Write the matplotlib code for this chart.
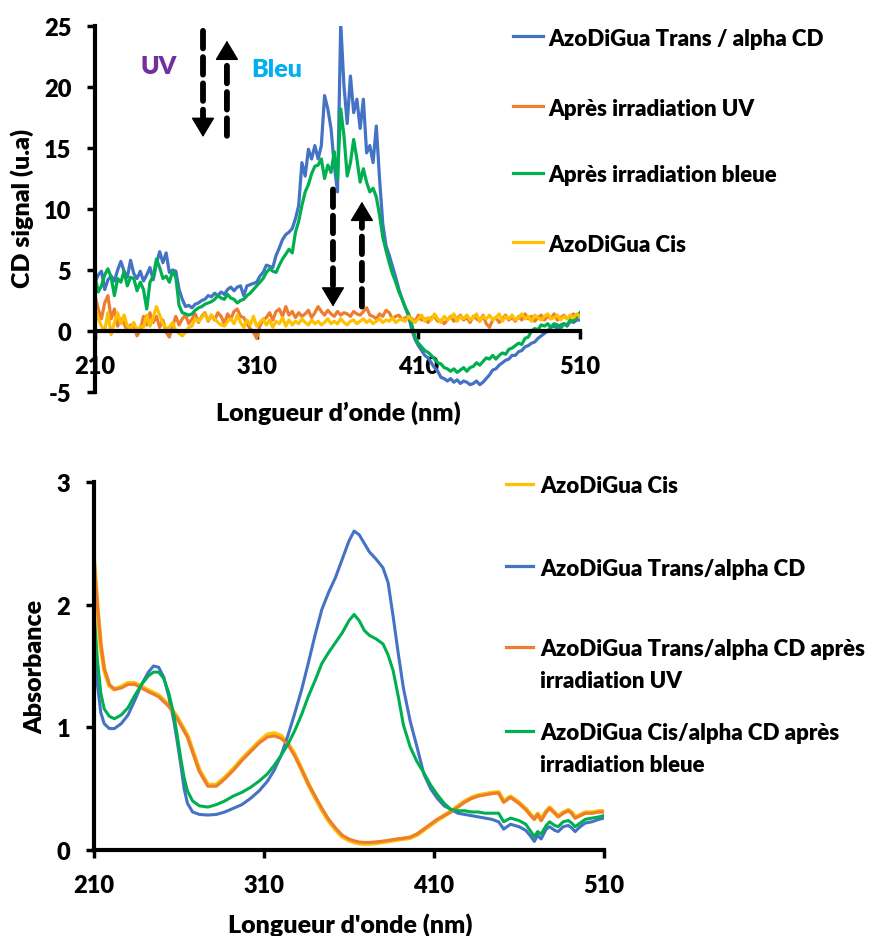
import numpy as np
import matplotlib
matplotlib.use('Agg')
import matplotlib.pyplot as plt
from matplotlib.lines import Line2D

plt.rcParams['font.family'] = ['Lato', 'DejaVu Sans']
plt.rcParams['font.weight'] = 'heavy'
plt.rcParams['axes.unicode_minus'] = False

# ---------------- CD data (top panel), 210-510 nm every 2 nm ----------------
wl_cd = np.arange(210, 511, 2)

cd_trans = [4.0, 4.6, 4.9, 3.4, 4.2, 4.5, 4.1, 5.0, 5.7, 4.9,
            4.4, 5.8, 4.7, 4.3, 4.9, 4.1, 4.6, 5.2, 4.2, 5.5,
            6.5, 5.6, 6.4, 4.8, 5.0, 4.9, 3.4, 2.6, 2.0, 2.1,
            1.9, 2.2, 2.3, 2.5, 2.6, 2.9, 2.8, 3.1, 2.9, 3.2,
            3.0, 3.4, 3.6, 3.3, 3.6, 3.7, 2.9, 3.7, 3.8, 3.9,
            4.0, 4.5, 4.8, 5.4, 5.3, 5.2, 6.2, 6.8, 7.5, 7.9,
            8.1, 8.4, 9.2, 10.3, 13.8, 12.7, 14.9, 14.1, 15.2, 14.1,
            15.2, 19.3, 18.2, 16.6, 13.6, 11.4, 25.2, 20.1, 17.0, 20.9,
            17.9, 19.0, 16.6, 19.0, 14.6, 15.2, 13.8, 16.8, 12.5, 8.8,
            7.0, 6.2, 5.3, 4.4, 3.4, 2.6, 1.9, 1.2, 0.1, -0.7,
            -1.2, -1.6, -2.0, -2.2, -2.6, -3.0, -3.3, -3.8, -3.9, -4.1,
            -3.9, -4.2, -4.0, -4.3, -4.1, -4.2, -4.4, -4.3, -4.1, -4.4,
            -4.2, -3.9, -3.6, -3.2, -3.1, -2.8, -2.6, -2.4, -2.3, -2.0,
            -2.0, -1.7, -1.6, -1.3, -1.2, -1.0, -0.9, -0.6, -0.4, -0.2,
            0.0, 0.3, 0.4, 0.2, 0.5, 0.6, 0.4, 0.8, 0.7, 0.9,
            0.9]

cd_uv = [2.9, 1.8, 1.0, 2.3, 2.9, 1.0, 1.8, 0.4, 1.0, 0.6,
         0.0, 0.5, 0.4, -0.4, 0.1, 1.2, 0.5, 1.5, 0.7, 1.2,
         0.3, 0.9, -0.1, -0.5, 0.4, 1.2, 0.5, 1.0, 1.3, 0.6,
         1.0, 1.4, 0.7, 1.2, 1.5, 0.8, 1.3, 0.9, 1.5, 1.2,
         0.6, 1.4, 1.0, 1.6, 1.8, 1.2, 1.1, 0.6, 0.2, -0.1,
         -0.6, 0.4, 0.9, 1.1, 1.5, 0.9, 1.6, 1.8, 1.2, 2.0,
         1.3, 1.6, 1.1, 1.5, 1.2, 1.4, 1.7, 1.1, 1.5, 2.0,
         1.6, 1.3, 1.7, 1.4, 1.2, 1.6, 1.3, 1.5, 1.4, 1.2,
         1.6, 1.4, 1.3, 1.6, 1.9, 1.3, 1.2, 1.0, 1.4, 1.2,
         1.7, 1.5, 1.0, 1.2, 1.3, 0.9, 1.1, 1.2, 1.0, 0.8,
         1.3, 0.9, 1.0, 0.7, 1.1, 1.2, 0.8, 0.9, 0.6, 0.9,
         1.2, 0.8, 1.0, 1.3, 0.9, 1.1, 0.7, 1.2, 1.0, 0.8,
         1.3, 0.6, 0.3, 0.9, 1.1, 0.7, 1.0, 1.3, 0.9, 1.1,
         0.8, 1.2, 0.9, 1.4, 1.0, 1.2, 0.8, 1.1, 1.3, 0.9,
         1.2, 1.0, 1.4, 0.9, 1.1, 1.3, 1.0, 1.2, 1.4, 1.1,
         1.3]

cd_blue = [4.5, 3.2, 3.7, 4.6, 5.1, 4.4, 2.9, 4.3, 4.0, 4.9,
           3.7, 4.4, 4.3, 3.3, 4.0, 3.4, 1.8, 4.0, 4.5, 5.9,
           5.2, 4.3, 4.5, 4.0, 4.9, 4.4, 2.1, 1.5, 1.4, 1.3,
           1.4, 1.7, 1.9, 2.0, 2.2, 2.3, 2.4, 2.6, 2.9, 2.7,
           2.6, 3.0, 2.7, 2.6, 2.3, 2.5, 2.6, 2.9, 3.1, 3.4,
           3.7, 4.0, 4.3, 4.8, 5.1, 4.9, 4.8, 5.4, 5.9, 6.3,
           6.7, 6.4, 8.1, 9.0, 10.3, 11.4, 12.0, 12.9, 13.5, 13.6,
           14.1, 12.5, 13.6, 13.0, 14.7, 12.5, 18.2, 16.0, 12.7, 13.8,
           15.7, 14.1, 12.2, 13.3, 12.2, 11.4, 11.7, 11.0, 9.5, 7.7,
           6.6, 5.6, 4.7, 4.0, 3.2, 2.6, 1.9, 1.4, 0.5, -0.5,
           -1.0, -1.3, -1.6, -1.75, -2.0, -2.3, -2.6, -2.7, -3.0, -3.1,
           -3.3, -3.1, -3.4, -3.2, -3.0, -3.3, -3.0, -2.9, -2.6, -2.8,
           -2.5, -2.2, -2.3, -2.0, -2.3, -2.0, -1.8, -1.9, -1.5, -1.4,
           -1.2, -1.0, -1.1, -0.6, -0.5, 0.0, 0.2, 0.1, 0.5, 0.4,
           0.6, 0.3, 0.6, 0.5, 0.2, 0.6, 0.5, 0.9, 0.8, 1.2,
           1.5]

cd_cis = [2.0, 1.0, 0.4, 0.0, 1.5, -0.3, 0.7, 1.5, 0.6, 1.3,
          0.4, 0.2, 0.7, 0.0, 0.4, 0.3, 1.3, 0.4, 1.1, 2.0,
          1.3, 0.6, 0.2, 0.3, 0.7, 0.0, -0.2, -0.4, -0.1, 0.3,
          0.4, 1.0, 0.8, 1.1, 1.4, 0.9, 1.3, 1.0, 0.7, 0.5,
          0.4, 0.8, 1.0, 0.6, 1.3, 0.7, 0.3, 0.9, 0.5, 1.2,
          0.4, 0.7, 1.0, 0.5, 0.9, 0.3, 0.8, 0.6, 1.1, 0.4,
          0.9, 0.5, 0.8, 0.6, 1.0, 0.7, 0.5, 0.9, 0.6, 0.8,
          0.5, 0.7, 1.0, 0.6, 0.8, 0.6, 1.0, 0.7, 0.5, 0.8,
          0.9, 0.6, 0.8, 1.0, 0.7, 0.9, 0.6, 0.8, 1.0, 0.7,
          0.9, 0.8, 1.1, 0.7, 0.9, 1.0, 0.8, 1.2, 0.9, 0.7,
          1.0, 1.3, 0.8, 1.1, 0.9, 1.4, 1.0, 0.7, 1.2, 0.9,
          1.1, 1.4, 0.8, 1.2, 1.0, 1.3, 0.9, 1.1, 1.4, 0.8,
          1.2, 1.0, 1.3, 0.9, 1.1, 1.4, 0.8, 1.2, 1.0, 1.3,
          0.9, 1.1, 1.4, 1.0, 1.2, 0.8, 1.3, 1.1, 0.9, 1.2,
          1.4, 1.0, 1.1, 1.3, 0.9, 1.2, 1.0, 1.3, 1.1, 1.4,
          1.2]

# ---------------- Absorbance data (bottom panel) ----------------
wl_abs = [210, 212, 214, 216, 219, 222, 226, 230, 234, 238,
          242, 245, 248, 251, 254, 257, 259, 261, 263, 265,
          268, 272, 277, 282, 287, 292, 297, 302, 307, 312,
          316, 320, 324, 328, 332, 336, 340, 344, 348, 352,
          356, 360, 363, 366, 369, 372, 376, 380, 383, 386,
          389, 392, 396, 400, 404, 408, 412, 416, 420, 424,
          428, 432, 436, 440, 444, 448, 451, 455, 460, 464,
          467, 469, 471, 473, 476, 478, 481, 483, 486, 489,
          491, 493, 496, 499, 503, 507, 510]

abs_cis = [2.36, 1.98, 1.66, 1.47, 1.34, 1.31, 1.33, 1.36, 1.36, 1.33,
           1.30, 1.28, 1.26, 1.22, 1.18, 1.12, 1.08, 1.03, 0.98, 0.93,
           0.81, 0.65, 0.53, 0.53, 0.59, 0.66, 0.74, 0.81, 0.88, 0.94,
           0.95, 0.93, 0.87, 0.78, 0.66, 0.54, 0.43, 0.33, 0.24, 0.17,
           0.11, 0.08, 0.065, 0.055, 0.052, 0.053, 0.058, 0.066, 0.072, 0.08,
           0.086, 0.092, 0.10, 0.125, 0.165, 0.205, 0.245, 0.28, 0.315, 0.355,
           0.395, 0.425, 0.445, 0.455, 0.465, 0.47, 0.395, 0.435, 0.385, 0.335,
           0.285, 0.255, 0.295, 0.245, 0.315, 0.345, 0.305, 0.275, 0.305, 0.325,
           0.305, 0.265, 0.285, 0.305, 0.305, 0.315, 0.315]

abs_trans = [1.75, 1.35, 1.12, 1.03, 0.99, 0.99, 1.03, 1.10, 1.22, 1.35,
             1.45, 1.50, 1.49, 1.41, 1.25, 1.05, 0.88, 0.70, 0.50, 0.38,
             0.31, 0.29, 0.285, 0.29, 0.31, 0.34, 0.37, 0.42, 0.48, 0.56,
             0.65, 0.77, 0.93, 1.11, 1.30, 1.52, 1.75, 1.96, 2.10, 2.22,
             2.37, 2.52, 2.60, 2.57, 2.50, 2.43, 2.37, 2.30, 2.18, 1.90,
             1.60, 1.32, 1.05, 0.84, 0.62, 0.50, 0.42, 0.36, 0.33, 0.30,
             0.29, 0.28, 0.27, 0.26, 0.25, 0.23, 0.17, 0.21, 0.19, 0.16,
             0.11, 0.07, 0.12, 0.09, 0.17, 0.19, 0.16, 0.15, 0.19, 0.20,
             0.18, 0.15, 0.19, 0.22, 0.23, 0.25, 0.26]

abs_uv = [2.38, 2.00, 1.68, 1.48, 1.35, 1.31, 1.32, 1.35, 1.35, 1.32,
          1.29, 1.27, 1.25, 1.21, 1.17, 1.11, 1.07, 1.02, 0.97, 0.92,
          0.80, 0.64, 0.52, 0.52, 0.58, 0.65, 0.73, 0.80, 0.87, 0.92,
          0.93, 0.91, 0.86, 0.77, 0.66, 0.54, 0.44, 0.34, 0.25, 0.18,
          0.12, 0.09, 0.075, 0.065, 0.062, 0.062, 0.066, 0.072, 0.078, 0.085,
          0.09, 0.095, 0.105, 0.13, 0.17, 0.21, 0.25, 0.28, 0.31, 0.35,
          0.39, 0.42, 0.44, 0.45, 0.46, 0.465, 0.39, 0.43, 0.38, 0.33,
          0.28, 0.25, 0.29, 0.24, 0.31, 0.34, 0.30, 0.27, 0.30, 0.32,
          0.30, 0.26, 0.28, 0.30, 0.30, 0.31, 0.31]

abs_blue = [1.95, 1.55, 1.28, 1.15, 1.09, 1.07, 1.10, 1.16, 1.26, 1.35,
            1.42, 1.45, 1.45, 1.40, 1.28, 1.10, 0.93, 0.75, 0.59, 0.48,
            0.40, 0.36, 0.35, 0.37, 0.40, 0.44, 0.47, 0.51, 0.56, 0.62,
            0.69, 0.77, 0.86, 0.97, 1.10, 1.25, 1.38, 1.52, 1.61, 1.69,
            1.77, 1.87, 1.92, 1.87, 1.79, 1.75, 1.72, 1.68, 1.59, 1.46,
            1.25, 1.02, 0.84, 0.72, 0.63, 0.53, 0.45, 0.38, 0.33, 0.32,
            0.32, 0.31, 0.31, 0.30, 0.30, 0.30, 0.23, 0.26, 0.24, 0.21,
            0.15, 0.11, 0.15, 0.13, 0.20, 0.23, 0.20, 0.19, 0.23, 0.24,
            0.22, 0.19, 0.22, 0.25, 0.26, 0.27, 0.28]

C_BLUE, C_ORANGE, C_GREEN, C_YELLOW = '#4472C4', '#ED7D31', '#00B050', '#FFC000'
FS_TICK = 17
FS_TITLE = 18
FS_LEG = 16
WT = 'heavy'
W, H = 870, 937


def fx(x):
    return x / W


def fy(y):
    return 1 - y / H


def style_axes(ax):
    for s in ['top', 'right']:
        ax.spines[s].set_visible(False)
    for s in ['left', 'bottom']:
        ax.spines[s].set_linewidth(3)
    ax.tick_params(axis='both', direction='out', length=6, width=2.5,
                   labelsize=FS_TICK, pad=11)
    for lab in ax.get_xticklabels() + ax.get_yticklabels():
        lab.set_fontweight(WT)


def dashed_arrow(ax, x, y0, y1):
    # dashed shaft + solid head
    dy = 1.3 if y1 > y0 else -1.3
    ax.annotate('', xy=(x, y1 - dy), xytext=(x, y0),
                arrowprops=dict(arrowstyle='-', color='black', lw=4.2,
                                linestyle=(0, (3.0, 1.5)), shrinkA=0, shrinkB=0))
    ax.annotate('', xy=(x, y1), xytext=(x, y1 - dy),
                arrowprops=dict(arrowstyle='-|>,head_length=0.5,head_width=0.3',
                                color='black', lw=1, mutation_scale=25,
                                shrinkA=0, shrinkB=0))


fig = plt.figure(figsize=(8.7, 9.37), dpi=100)

# ---------------- top: CD ----------------
ax1 = fig.add_axes([fx(95), fy(393), (580 - 95) / W, (393 - 27) / H])
ax1.plot(wl_cd, cd_trans, color=C_BLUE, lw=2.3)
ax1.plot(wl_cd, cd_uv, color=C_ORANGE, lw=2.3)
ax1.plot(wl_cd, cd_blue, color=C_GREEN, lw=2.3)
ax1.plot(wl_cd, cd_cis, color=C_YELLOW, lw=2.3)
ax1.set_xlim(210, 510)
ax1.set_ylim(-5, 25)
ax1.set_xticks([210, 310, 410, 510])
ax1.set_yticks([-5, 0, 5, 10, 15, 20, 25])
ax1.spines['bottom'].set_position(('data', 0))
style_axes(ax1)

dashed_arrow(ax1, 276.8, 24.6, 15.9)
dashed_arrow(ax1, 291.6, 16.0, 23.8)
dashed_arrow(ax1, 357.2, 11.6, 2.0)
dashed_arrow(ax1, 375.1, 2.0, 10.6)
ax1.text(249.6, 21.7, 'UV', color='#7030A0', fontsize=18, fontweight=WT,
         ha='center', va='center')
ax1.text(322.6, 21.5, 'Bleu', color='#00B0F0', fontsize=18, fontweight=WT,
         ha='center', va='center')

fig.text(fx(22), fy(208), 'CD signal (u.a)', rotation=90, ha='center',
         va='center', fontsize=FS_TITLE, fontweight=WT)
fig.text(fx(338), fy(413), 'Longueur d\u2019onde (nm)', ha='center',
         va='center', fontsize=FS_TITLE, fontweight=WT)

# ---------------- bottom: absorbance ----------------
ax2 = fig.add_axes([fx(94), fy(851), (604 - 94) / W, (851 - 483) / H])
ax2.plot(wl_abs, abs_cis, color=C_YELLOW, lw=3.2)
ax2.plot(wl_abs, abs_trans, color=C_BLUE, lw=2.2)
ax2.plot(wl_abs, abs_uv, color=C_ORANGE, lw=2.2)
ax2.plot(wl_abs, abs_blue, color=C_GREEN, lw=2.2)
ax2.set_xlim(210, 510)
ax2.set_ylim(0, 3)
ax2.set_xticks([210, 310, 410, 510])
ax2.set_yticks([0, 1, 2, 3])
style_axes(ax2)

fig.text(fx(35), fy(667), 'Absorbance', rotation=90, ha='center',
         va='center', fontsize=FS_TITLE, fontweight=WT)
fig.text(fx(350), fy(925), "Longueur d'onde (nm)", ha='center',
         va='center', fontsize=FS_TITLE, fontweight=WT)


# ---------------- legends ----------------
def legend_entry(x0, x1, xt, y, color, lines):
    fig.add_artist(Line2D([fx(x0), fx(x1)], [fy(y), fy(y)],
                          transform=fig.transFigure, color=color, lw=2.3))
    for i, t in enumerate(lines):
        fig.text(fx(xt), fy(y + i * 32), t, ha='left', va='center_baseline',
                 fontsize=FS_LEG, fontweight=WT)


legend_entry(513, 543, 548, 37, C_BLUE, ['AzoDiGua Trans / alpha CD'])
legend_entry(513, 543, 548, 107, C_ORANGE, ['Apr\u00e8s irradiation UV'])
legend_entry(513, 543, 548, 174, C_GREEN, ['Apr\u00e8s irradiation bleue'])
legend_entry(513, 543, 548, 243, C_YELLOW, ['AzoDiGua Cis'])

legend_entry(506, 533, 540, 485, C_YELLOW, ['AzoDiGua Cis'])
legend_entry(506, 533, 540, 567, C_BLUE, ['AzoDiGua Trans/alpha CD'])
legend_entry(506, 533, 540, 648, C_ORANGE,
             ['AzoDiGua Trans/alpha CD apr\u00e8s', 'irradiation UV'])
legend_entry(506, 533, 540, 732, C_GREEN,
             ['AzoDiGua Cis/alpha CD apr\u00e8s', 'irradiation bleue'])

fig.savefig('out.png', dpi=100)
